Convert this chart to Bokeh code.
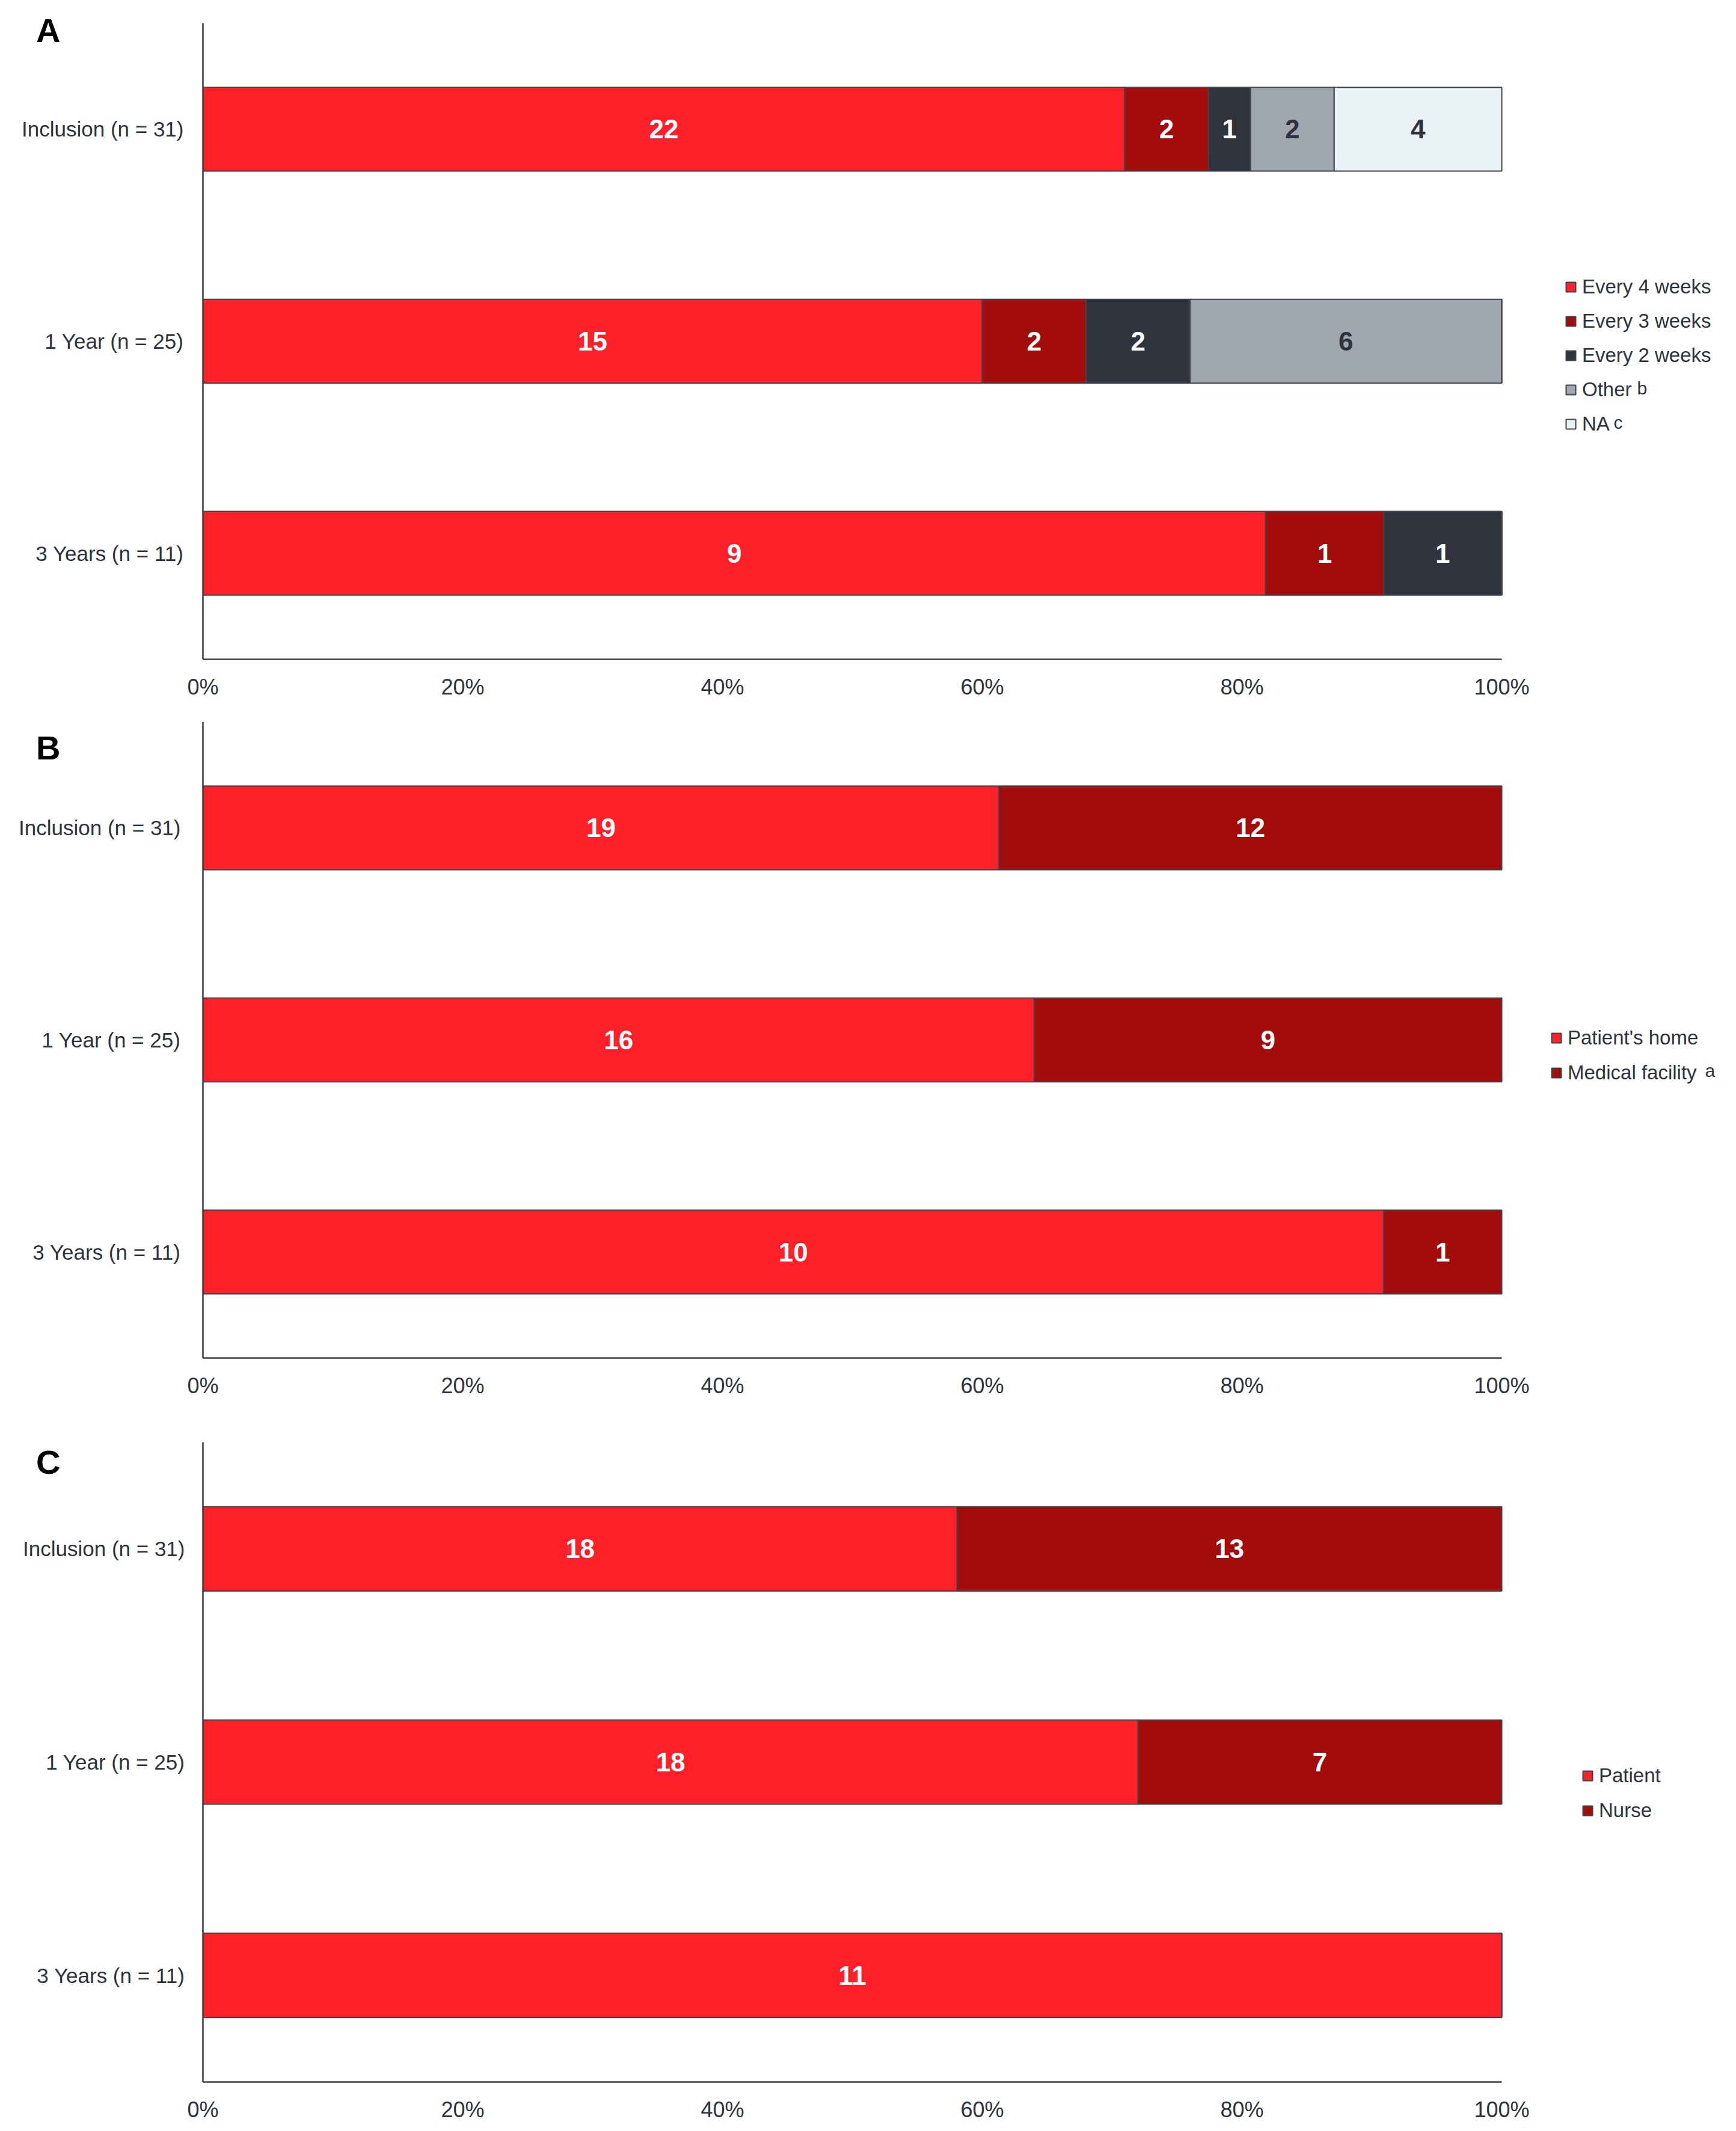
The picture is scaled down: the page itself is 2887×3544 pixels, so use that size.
import numpy as np
from bokeh.plotting import figure
from bokeh.models import (Range1d, Legend, LegendItem, ColumnDataSource,
                          FixedTicker, LinearAxis, Label)
from bokeh.layouts import column
from bokeh.embed import file_html
from bokeh.resources import INLINE
from bokeh.core.properties import value

# ---------------- data ----------------
timepoints = ["Inclusion (n = 31)", "1 Year (n = 25)", "3 Years (n = 11)"]

# Panel A: dosing frequency
freq_series = ["Every 4 weeks", "Every 3 weeks", "Every 2 weeks", "Other", "NA"]
freq_notes = ["", "", "", "b", "c"]
freq_every4 = [22, 15, 9]
freq_every3 = [2, 2, 1]
freq_every2 = [1, 2, 1]
freq_other = [2, 6, 0]
freq_na = [4, 0, 0]

# Panel B: place of administration
place_series = ["Patient's home", "Medical facility"]
place_notes = ["", "a"]
place_home = [19, 16, 10]
place_facility = [12, 9, 1]

# Panel C: who administers
admin_series = ["Patient", "Nurse"]
admin_notes = ["", ""]
admin_patient = [18, 18, 11]
admin_nurse = [13, 7, 0]

xticks = [0, 20, 40, 60, 80, 100]
xtick_labels = ["0%", "20%", "40%", "60%", "80%", "100%"]

# ---------------- style ----------------
RED = "#FE1F29"
DARKRED = "#A20C0B"
NAVY = "#2E333D"
GREY = "#A0A6AD"
PALE = "#EBF2F6"
EDGE = "#3F444C"
TXT = "#2E333D"
FONT = "Liberation Sans"

LEFT_B = 337          # frame left edge
CANVAS_W = 2880
FRAME_W = CANVAS_W - LEFT_B
AXIS_PX = 2160        # pixel length of the 0-100 % scale
X_END = 100.0 * FRAME_W / AXIS_PX   # frame extends right to hold the legend

# numeric row positions: first timepoint at the top
ypos = [len(timepoints) - 1 - i for i in range(len(timepoints))]


def make_panel(letter, series_names, notes, series_counts, colors, num_colors,
               frame_h, top_b, label_standoff, letter_standoff, legend_xy,
               legend_spacing, letter_from_bottom, note_pos):
    p = figure(frame_width=FRAME_W, frame_height=frame_h,
               output_backend="svg", toolbar_location=None,
               y_range=Range1d(-0.5, len(timepoints) - 0.5),
               x_range=Range1d(0, X_END),
               min_border_left=LEFT_B, min_border_right=0,
               min_border_top=top_b, min_border_bottom=74)
    p.outline_line_color = None
    p.xgrid.grid_line_color = None
    p.ygrid.grid_line_color = None

    totals = np.sum(np.array(series_counts, dtype=float), axis=0)
    left = np.zeros(len(timepoints))
    renderers = []
    tx, ty, tt, tc = [], [], [], []
    for name, counts, col, ncol in zip(series_names, series_counts, colors, num_colors):
        pct = np.array(counts, dtype=float) / totals * 100.0
        right = left + pct
        src = ColumnDataSource(dict(y=ypos, left=left.copy(), right=right.copy()))
        r = p.hbar(y="y", left="left", right="right", height=0.395, source=src,
                   fill_color=col, line_color=EDGE, line_width=2)
        renderers.append((name, r))
        for i, c in enumerate(counts):
            if c > 0:
                tx.append((left[i] + right[i]) / 2.0)
                ty.append(ypos[i])
                tt.append(str(c))
                tc.append(ncol)
        left = right

    tsrc = ColumnDataSource(dict(x=tx, y=ty, t=tt, c=tc))
    p.text(x="x", y="y", text="t", text_color="c", source=tsrc,
           text_font=value(FONT), text_font_style="bold", text_font_size="44px",
           text_align="center", text_baseline="middle")

    # axes
    p.xaxis.ticker = FixedTicker(ticks=xticks)
    p.xaxis.major_label_overrides = {t: l for t, l in zip(xticks, xtick_labels)}
    p.xaxis.bounds = (0, 100)
    p.yaxis.ticker = FixedTicker(ticks=ypos)
    p.yaxis.major_label_overrides = {yv: lab for yv, lab in zip(ypos, timepoints)}
    for ax in (p.xaxis[0], p.yaxis[0]):
        ax.axis_line_color = "#3a3e45"
        ax.axis_line_width = 2.5
        ax.major_tick_line_color = None
        ax.minor_tick_line_color = None
        ax.major_tick_out = 0
        ax.major_tick_in = 0
        ax.minor_tick_out = 0
        ax.major_label_text_font = FONT
        ax.major_label_text_color = TXT
    p.xaxis.major_label_text_font_size = "36px"
    p.xaxis.major_label_standoff = 25
    p.yaxis.major_label_text_font_size = "35px"
    p.yaxis.major_label_standoff = label_standoff

    # panel letter, carried by a bare extra axis to the left of the category axis
    p.extra_y_ranges = {"letter": Range1d(0, frame_h)}
    lax = LinearAxis(y_range_name="letter", ticker=FixedTicker(ticks=[letter_from_bottom]),
                     major_label_overrides={letter_from_bottom: letter},
                     axis_line_color=None, major_tick_line_color=None,
                     minor_tick_line_color=None, major_tick_out=0, major_tick_in=0,
                     major_label_standoff=letter_standoff,
                     major_label_text_font=FONT, major_label_text_font_style="bold",
                     major_label_text_font_size="56px", major_label_text_color="black")
    p.add_layout(lax, "left")

    legend = Legend(items=[LegendItem(label=n, renderers=[r]) for n, r in renderers],
                    location=legend_xy, orientation="vertical",
                    glyph_width=20, glyph_height=20, label_height=38,
                    label_standoff=9, spacing=legend_spacing, padding=0, margin=0,
                    border_line_color=None, background_fill_alpha=0,
                    label_text_font=FONT, label_text_font_size="33px",
                    label_text_color=TXT)
    p.add_layout(legend)

    # superscript footnote marks after some legend entries
    for note, pos in zip(notes, note_pos):
        if note:
            p.add_layout(Label(x=pos[0], y=pos[1], x_units="screen", y_units="screen",
                               text=note, text_font=FONT, text_font_size="30px",
                               text_color=TXT, text_baseline="alphabetic"))
    return p


# Panel A: frame y 38-1096
pA = make_panel("A", freq_series, freq_notes,
                [freq_every4, freq_every3, freq_every2, freq_other, freq_na],
                [RED, DARKRED, NAVY, GREY, PALE],
                ["white", "white", "white", NAVY, NAVY],
                frame_h=1058, top_b=38, label_standoff=32, letter_standoff=-67,
                legend_xy=(2265, 372), legend_spacing=19, letter_from_bottom=1046,
                note_pos=[None, None, None, (2722 - LEFT_B, 1096 - 645),
                          (2683 - LEFT_B, 1096 - 702)])

# Panel B: frame y 1200-2258
pB = make_panel("B", place_series, place_notes, [place_home, place_facility],
                [RED, DARKRED], ["white", "white"],
                frame_h=1058, top_b=30, label_standoff=37, letter_standoff=-72,
                legend_xy=(2241, 455), legend_spacing=20, letter_from_bottom=1015,
                note_pos=[None, (2835 - LEFT_B, 2258 - 1780)])

# Panel C: frame y 2398-3462
pC = make_panel("C", admin_series, admin_notes, [admin_patient, admin_nurse],
                [RED, DARKRED], ["white", "white"],
                frame_h=1064, top_b=66, label_standoff=30, letter_standoff=-65,
                legend_xy=(2293, 432), legend_spacing=20, letter_from_bottom=1031,
                note_pos=[None, None])

layout = column(pA, pB, pC, spacing=0)
open("out.html", "w").write(file_html(layout, INLINE))
